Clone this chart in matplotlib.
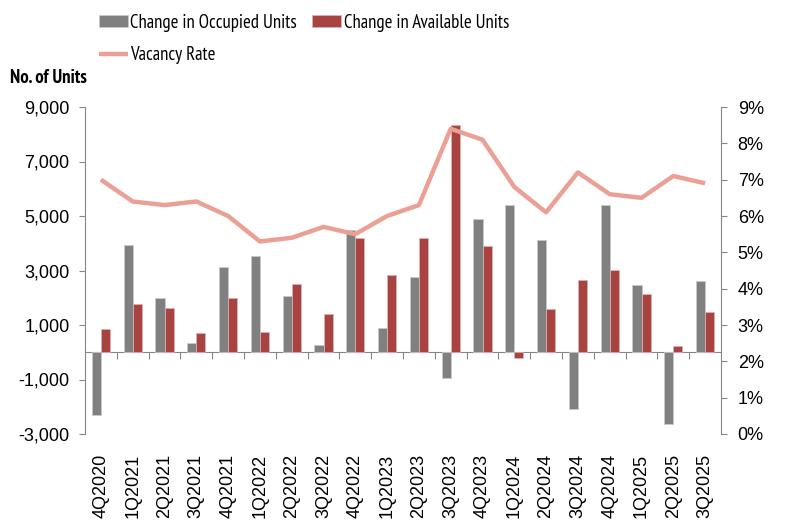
import matplotlib
matplotlib.use("Agg")
import matplotlib.pyplot as plt
import numpy as np
from matplotlib.ticker import FuncFormatter

plt.rcParams['font.family'] = ['Liberation Sans', 'DejaVu Sans']
NARROW = ['PT Sans Narrow', 'Roboto Condensed', 'Liberation Sans', 'DejaVu Sans']

quarters = ["4Q2020", "1Q2021", "2Q2021", "3Q2021", "4Q2021", "1Q2022", "2Q2022",
            "3Q2022", "4Q2022", "1Q2023", "2Q2023", "3Q2023", "4Q2023", "1Q2024",
            "2Q2024", "3Q2024", "4Q2024", "1Q2025", "2Q2025", "3Q2025"]
occupied = [-2300, 3930, 1980, 330, 3120, 3520, 2060, 260, 4480, 880, 2770,
            -930, 4900, 5390, 4130, -2090, 5390, 2480, -2620, 2620]
available = [860, 1760, 1630, 710, 1980, 760, 2520, 1410, 4210, 2850, 4210,
             8340, 3900, -200, 1580, 2640, 3030, 2120, 230, 1490]
vacancy = [7.0, 6.4, 6.3, 6.4, 6.0, 5.3, 5.4, 5.7, 5.5, 6.0, 6.3,
           8.4, 8.1, 6.8, 6.1, 7.2, 6.6, 6.5, 7.1, 6.9]

left_ticks = [-3000, -1000, 1000, 3000, 5000, 7000, 9000]
right_ticks = [0, 1, 2, 3, 4, 5, 6, 7, 8, 9]

GRAY = "#808080"
RED = "#A94341"
LINE = "#EBA095"
AXC = "#868686"

fig = plt.figure(figsize=(8.08, 5.28), dpi=100)
ax = fig.add_axes([85/808, 1-434/528, (721-85)/808, (434-107)/528])
ax2 = ax.twinx()

x = np.arange(len(quarters))
w = 0.285
b1 = ax.bar(x - w/2, occupied, w, color=GRAY, edgecolor="#C8C8C8", linewidth=0.6,
            label="Change in Occupied Units", zorder=2)
b2 = ax.bar(x + w/2, available, w, color=RED, edgecolor="#D8B0B0", linewidth=0.6,
            label="Change in Available Units", zorder=2)
ln, = ax2.plot(x, vacancy, color=LINE, lw=3.2, solid_capstyle="butt",
               label="Vacancy Rate", zorder=3)

ax.set_xlim(-0.5, len(quarters) - 0.5)
ax.set_ylim(-3000, 9000)
ax2.set_ylim(0, 9)

ax.set_yticks(left_ticks)
ax.yaxis.set_major_formatter(FuncFormatter(lambda v, p: f"{int(v):,}"))
ax2.set_yticks(right_ticks)
ax2.yaxis.set_major_formatter(FuncFormatter(lambda v, p: f"{int(v)}%"))

for a in (ax, ax2):
    for s in a.spines.values():
        s.set_visible(False)
ax.spines['left'].set_visible(True)
ax.spines['left'].set_color(AXC)
ax2.spines['right'].set_visible(True)
ax2.spines['right'].set_color(AXC)

ax.tick_params(axis='y', direction='out', length=4, color=AXC, labelsize=13, pad=7)
ax2.tick_params(axis='y', direction='out', length=4, color=AXC, labelsize=13, pad=8)

ax.set_xticks(x)
ax.set_xticklabels(quarters, rotation=90, fontsize=13)
ax.tick_params(axis='x', length=0, pad=14)

# x axis line at zero with tick marks between categories
sec = ax.secondary_xaxis(3000/12000)
sec.spines['bottom'].set_color(AXC)
sec.set_xticks(np.arange(0.5, len(quarters) - 0.5, 1.0))
sec.set_xticklabels([])
sec.tick_params(axis='x', direction='out', length=5, color=AXC)

fig.text(10/808, 1-78/528, "No. of Units", fontsize=13.5, fontweight="bold",
         family=NARROW, ha="left", va="center")

leg = fig.legend([b1, ln, b2],
                 ["Change in Occupied Units", "Vacancy Rate", "Change in Available Units"],
                 ncol=2, loc="upper left", bbox_to_anchor=(91/808, 1-6/528),
                 frameon=False, prop={'family': NARROW, 'size': 13.5},
                 handlelength=1.55, handleheight=0.6,
                 handletextpad=0.15, columnspacing=0.8, labelspacing=0.8,
                 borderaxespad=0)

fig.savefig("out.png", dpi=100)
